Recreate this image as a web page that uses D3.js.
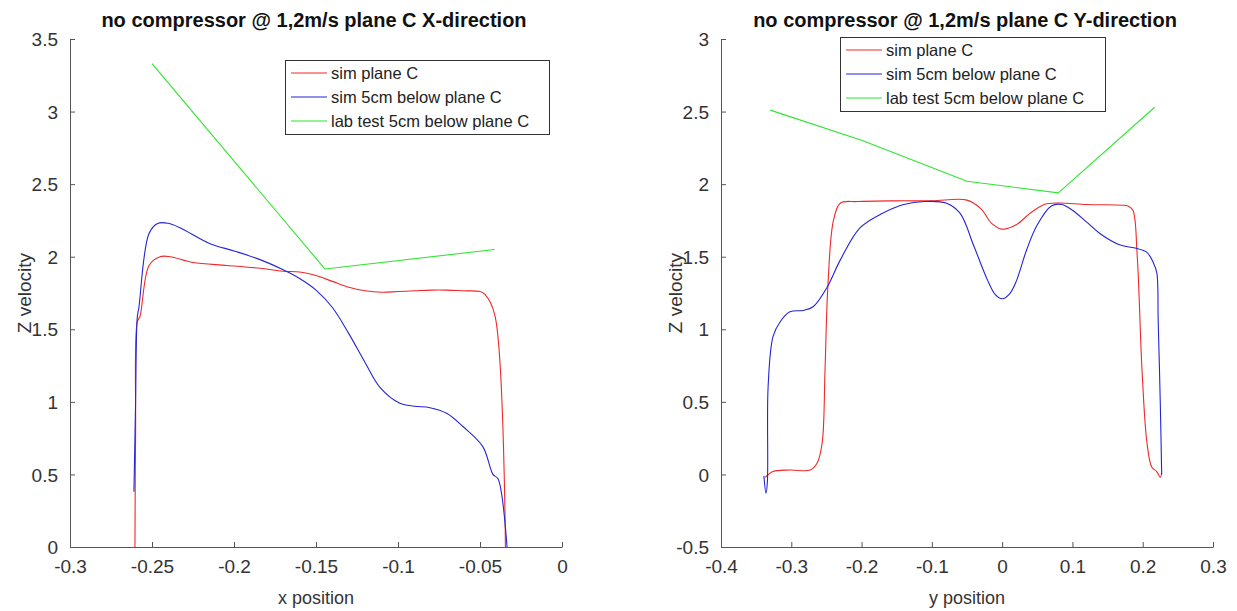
<!DOCTYPE html>
<html>
<head>
<meta charset="utf-8">
<script src="https://cdn.jsdelivr.net/npm/d3@7"></script>
<style>
  html, body { margin: 0; padding: 0; background: #fff; }
  svg { display: block; font-family: "Liberation Sans", Arial, Helvetica, sans-serif; }
</style>
</head>
<body>
<svg id="chart" width="1237" height="611"></svg>
<script>
// ---- X-direction traverse (x position, Z velocity) ----
const xSimPlaneX = [-0.2604, -0.2600, -0.2590, -0.2573, -0.2518, -0.2451, -0.2390, -0.2250, -0.2043, -0.1841, -0.170, -0.160, -0.150, -0.140, -0.130, -0.120, -0.110, -0.100, -0.090, -0.080, -0.070, -0.060, -0.050, -0.047, -0.041, -0.0345];
const xSimPlaneV = [0.00, 0.80, 1.55, 1.59, 1.94, 2.00, 2.00, 1.96, 1.94, 1.92, 1.90, 1.895, 1.87, 1.83, 1.79, 1.765, 1.755, 1.76, 1.765, 1.77, 1.77, 1.765, 1.76, 1.74, 1.60, 0.00];

const xSimBelowX = [-0.2610, -0.2600, -0.2590, -0.2580, -0.2518, -0.2463, -0.2402, -0.2330, -0.2146, -0.2000, -0.1841, -0.170, -0.160, -0.150, -0.140, -0.130, -0.120, -0.111, -0.0988, -0.0900, -0.0805, -0.0701, -0.0604, -0.0482, -0.0421, -0.0390, -0.0335];
const xSimBelowV = [0.38, 1.00, 1.58, 1.65, 2.16, 2.23, 2.23, 2.20, 2.09, 2.04, 1.98, 1.91, 1.85, 1.77, 1.65, 1.47, 1.27, 1.10, 0.99, 0.97, 0.96, 0.92, 0.83, 0.69, 0.50, 0.47, 0.00];

const xLabX = [-0.250, -0.1445, -0.041];
const xLabV = [3.33, 1.915, 2.05];

// ---- Y-direction traverse (y position, Z velocity) ----
const ySimPlaneX = [-0.337, -0.326, -0.302, -0.273, -0.263, -0.256, -0.252, -0.248, -0.240, -0.230, -0.206, -0.150, -0.100, -0.050, -0.030, -0.015, 0.000, 0.020, 0.040, 0.060, 0.080, 0.120, 0.170, 0.179, 0.186, 0.192, 0.199, 0.206, 0.213, 0.220, 0.225, 0.227];
const ySimPlaneV = [-0.02, 0.02, 0.03, 0.03, 0.08, 0.22, 0.72, 1.29, 1.75, 1.87, 1.88, 1.885, 1.885, 1.89, 1.83, 1.73, 1.69, 1.72, 1.80, 1.86, 1.87, 1.86, 1.855, 1.85, 1.82, 1.52, 0.72, 0.22, 0.05, 0.02, -0.02, 0.01];

const ySimBelowX = [-0.339, -0.336, -0.334, -0.333, -0.326, -0.316, -0.302, -0.283, -0.269, -0.249, -0.230, -0.202, -0.170, -0.140, -0.110, -0.080, -0.060, -0.040, -0.020, -0.010, 0.000, 0.010, 0.020, 0.035, 0.050, 0.070, 0.085, 0.100, 0.120, 0.139, 0.168, 0.189, 0.206, 0.215, 0.220, 0.222, 0.225, 0.227];
const ySimBelowV = [-0.01, -0.13, -0.05, 0.60, 0.95, 1.05, 1.12, 1.13, 1.155, 1.29, 1.48, 1.70, 1.80, 1.86, 1.88, 1.87, 1.80, 1.57, 1.33, 1.24, 1.21, 1.24, 1.33, 1.55, 1.72, 1.85, 1.86, 1.82, 1.74, 1.66, 1.58, 1.56, 1.53, 1.46, 1.39, 1.06, 0.49, 0.00];

const yLabX = [-0.330, -0.199, -0.050, 0.080, 0.217];
const yLabV = [2.51, 2.30, 2.02, 1.94, 2.53];

// ---- Axis ticks ----
const xTicksLeft = [-0.3, -0.25, -0.2, -0.15, -0.1, -0.05, 0];
const vTicksLeft = [0, 0.5, 1, 1.5, 2, 2.5, 3, 3.5];
const xTicksRight = [-0.4, -0.3, -0.2, -0.1, 0, 0.1, 0.2, 0.3];
const vTicksRight = [-0.5, 0, 0.5, 1, 1.5, 2, 2.5, 3];

const legendNames = ["sim plane C", "sim 5cm below plane C", "lab test 5cm below plane C"];
const lineColors = ["#f02828", "#2424d8", "#2ee62e"];

const svg = d3.select("#chart");
const fmt = d => (d === 0 ? "0" : String(d));

function panel(cfg) {
  const x = d3.scaleLinear().domain(cfg.xDomain).range([cfg.left, cfg.left + cfg.width]);
  const y = d3.scaleLinear().domain(cfg.yDomain).range([cfg.top + cfg.height, cfg.top]);
  const g = svg.append("g");

  const axisColor = "#555";
  const textColor = "#333";

  // bottom axis with inward ticks
  const ax = g.append("g")
    .attr("transform", `translate(0,${cfg.top + cfg.height})`)
    .call(d3.axisBottom(x).tickValues(cfg.xTicks).tickSizeInner(-5).tickSizeOuter(0).tickPadding(13).tickFormat(fmt));
  // left axis with inward ticks
  const ay = g.append("g")
    .attr("transform", `translate(${cfg.left},0)`)
    .call(d3.axisLeft(y).tickValues(cfg.yTicks).tickSizeInner(-5).tickSizeOuter(0).tickPadding(12).tickFormat(fmt));

  [ax, ay].forEach(a => {
    a.select(".domain").attr("stroke", axisColor).attr("stroke-width", 1);
    a.selectAll(".tick line").attr("stroke", axisColor);
    a.selectAll(".tick text").attr("fill", textColor).attr("font-size", 19)
      .attr("font-family", "Liberation Sans, Arial, sans-serif");
  });
  ay.selectAll(".tick text").attr("dy", "0.35em");

  // data lines
  const line = (xs, vs, curve) => d3.line()
    .x(i => x(xs[i])).y(i => y(vs[i])).curve(curve)(d3.range(xs.length));

  cfg.series.forEach((s, k) => {
    g.append("path")
      .attr("d", line(s.x, s.v, s.smooth ? d3.curveCatmullRom.alpha(0.5) : d3.curveLinear))
      .attr("fill", "none")
      .attr("stroke", lineColors[k])
      .attr("stroke-width", 1.1)
      .attr("stroke-linejoin", "round");
  });

  // title
  g.append("text")
    .attr("x", cfg.left + cfg.width / 2 - 2)
    .attr("y", 27)
    .attr("text-anchor", "middle")
    .attr("font-weight", "bold")
    .attr("font-size", 20)
    .attr("fill", "#111")
    .text(cfg.title);

  // axis labels
  g.append("text")
    .attr("x", cfg.left + cfg.width / 2)
    .attr("y", 604)
    .attr("text-anchor", "middle")
    .attr("font-size", 18)
    .attr("fill", textColor)
    .text(cfg.xLabel);

  g.append("text")
    .attr("transform", `translate(${cfg.left - 39},${cfg.top + cfg.height / 2}) rotate(-90)`)
    .attr("text-anchor", "middle")
    .attr("font-size", 19)
    .attr("fill", textColor)
    .text("Z velocity");

  // legend
  const lg = g.append("g").attr("transform", `translate(${cfg.legend[0]},${cfg.legend[1]})`);
  lg.append("rect")
    .attr("x", 0.5).attr("y", 0.5)
    .attr("width", cfg.legendWidth).attr("height", 74)
    .attr("fill", "#fff").attr("stroke", "#333").attr("stroke-width", 1);
  legendNames.forEach((name, k) => {
    const cy = 13 + k * 24;
    lg.append("line")
      .attr("x1", 6).attr("x2", 42).attr("y1", cy).attr("y2", cy)
      .attr("stroke", lineColors[k]).attr("stroke-width", 1.1);
    lg.append("text")
      .attr("x", 46).attr("y", cy).attr("dy", "0.35em")
      .attr("font-size", 16.5).attr("fill", "#222")
      .text(name);
  });
}

panel({
  left: 70, top: 39, width: 492, height: 508,
  xDomain: [-0.3, 0], yDomain: [0, 3.5],
  xTicks: xTicksLeft, yTicks: vTicksLeft,
  title: "no compressor @ 1,2m/s plane C X-direction",
  xLabel: "x position",
  legend: [285, 60], legendWidth: 264,
  series: [
    { x: xSimPlaneX, v: xSimPlaneV, smooth: true },
    { x: xSimBelowX, v: xSimBelowV, smooth: true },
    { x: xLabX, v: xLabV, smooth: false }
  ]
});

panel({
  left: 721, top: 39, width: 492, height: 508,
  xDomain: [-0.4, 0.3], yDomain: [-0.5, 3],
  xTicks: xTicksRight, yTicks: vTicksRight,
  title: "no compressor @ 1,2m/s plane C Y-direction",
  xLabel: "y position",
  legend: [840, 37], legendWidth: 265,
  series: [
    { x: ySimPlaneX, v: ySimPlaneV, smooth: true },
    { x: ySimBelowX, v: ySimBelowV, smooth: true },
    { x: yLabX, v: yLabV, smooth: false }
  ]
});
</script>
</body>
</html>
